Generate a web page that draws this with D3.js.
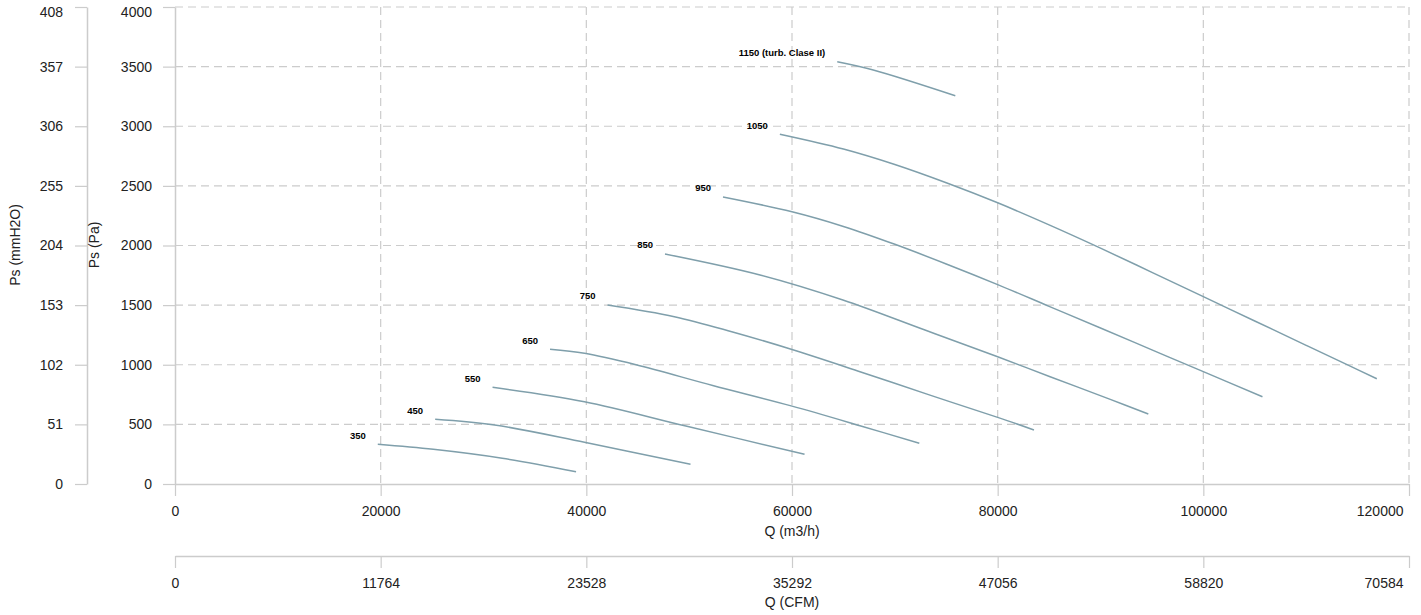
<!DOCTYPE html>
<html>
<head>
<meta charset="utf-8">
<script src="https://cdn.jsdelivr.net/npm/d3@7/dist/d3.min.js"></script>
<style>
  html, body { margin: 0; padding: 0; background: #fff; }
  svg { display: block; font-family: "Liberation Sans", Arial, sans-serif; }
</style>
</head>
<body>
<svg id="chart" width="1421" height="615"></svg>
<script>
// ---- data ----
const qTicks = [0, 20000, 40000, 60000, 80000, 100000, 120000];
const pTicks = [0, 500, 1000, 1500, 2000, 2500, 3000, 3500, 4000];
const mmTicks = [0, 51, 102, 153, 204, 255, 306, 357, 408];
const cfmTicks = [0, 11764, 23528, 35292, 47056, 58820, 70584];

const speedLabels = ["350", "450", "550", "650", "750", "850", "950", "1050", "1150 (turb. Clase II)"];

const q350 = [19720, 25120, 31820, 39000];
const p350 = [333, 291, 216, 103];
const q450 = [25300, 31080, 39820, 50130];
const p450 = [543, 495, 350, 165];
const q550 = [30880, 39820, 49680, 61220];
const p550 = [811, 690, 486, 249];
const q650 = [36470, 39820, 44830, 52290, 59920, 66610, 72380];
const p650 = [1130, 1096, 1000, 826, 655, 489, 341];
const q750 = [42060, 48560, 54140, 59920, 66610, 73420, 80000, 83530];
const p750 = [1501, 1403, 1277, 1130, 942, 745, 559, 453];
const q850 = [47650, 56890, 64950, 72930, 80000, 85100, 90950, 94650];
const p850 = [1929, 1753, 1543, 1291, 1067, 900, 710, 587];
const q950 = [53290, 60000, 65000, 70000, 75000, 80000, 85000, 90000, 95000, 100000, 105750];
const p950 = [2407, 2283, 2160, 2010, 1845, 1672, 1490, 1308, 1125, 942, 732];
const q1050 = [58820, 65000, 70000, 75000, 80000, 85000, 90000, 95000, 100000, 105000, 110000, 114130, 116870];
const p1050 = [2933, 2809, 2679, 2526, 2358, 2173, 1978, 1775, 1571, 1367, 1163, 995, 883];
const q1150 = [64400, 67900, 75880];
const p1150 = [3541, 3472, 3256];

const seriesQ = [q350, q450, q550, q650, q750, q850, q950, q1050, q1150];
const seriesP = [p350, p450, p550, p650, p750, p850, p950, p1050, p1150];

// ---- layout ----
const svg = d3.select("#chart");
const plotLeft = 175, plotRight = 1409, plotTop = 7, plotBottom = 484;
const gridColor = "#cccccc";
const textColor = "#222";
const lineColor = "#7f9fab";

const x = d3.scaleLinear().domain([0, 120000]).range([plotLeft, plotRight]);
const xCfm = d3.scaleLinear().domain([0, 70584]).range([plotLeft, plotRight]);
const y = d3.scaleLinear().domain([0, 4000]).range([plotBottom, plotTop]);
const yMm = d3.scaleLinear().domain([0, 408]).range([plotBottom, plotTop]);

// grid
const grid = svg.append("g");
grid.selectAll("line.h").data(pTicks.filter(d => d > 0)).join("line")
  .attr("class", "h")
  .attr("x1", plotLeft).attr("x2", plotRight)
  .attr("y1", d => y(d)).attr("y2", d => y(d))
  .attr("stroke", gridColor).attr("stroke-width", 1.2).attr("stroke-dasharray", "8,5");
grid.selectAll("line.v").data(qTicks.filter(d => d > 0)).join("line")
  .attr("class", "v")
  .attr("x1", d => x(d)).attr("x2", d => x(d))
  .attr("y1", plotTop).attr("y2", plotBottom)
  .attr("stroke", gridColor).attr("stroke-width", 1.2).attr("stroke-dasharray", "8,5");

function styleAxis(g) {
  g.selectAll(".domain").attr("stroke", gridColor).attr("stroke-width", 1.5);
  g.selectAll(".tick line").attr("stroke", gridColor).attr("stroke-width", 1.2);
  g.selectAll(".tick text").attr("fill", textColor)
    .style("font-size", "14px").style("font-family", "'Liberation Sans', Arial, sans-serif");
}

// left axes
const yAxis = svg.append("g").attr("transform", `translate(${plotLeft},0)`)
  .call(d3.axisLeft(y).tickValues(pTicks).tickSize(12).tickSizeOuter(0).tickPadding(11).tickFormat(d3.format("d")));
styleAxis(yAxis);
yAxis.selectAll(".tick text").filter(d => d === 4000).attr("y", 5);

const yMmAxis = svg.append("g").attr("transform", `translate(87,0)`)
  .call(d3.axisLeft(yMm).tickValues(mmTicks).tickSize(12).tickSizeOuter(0).tickPadding(12).tickFormat(d3.format("d")));
styleAxis(yMmAxis);
yMmAxis.selectAll(".tick text").filter(d => d === 408).attr("y", 5);

// bottom axes
const xAxis = svg.append("g").attr("transform", `translate(0,${plotBottom})`)
  .call(d3.axisBottom(x).tickValues(qTicks).tickSize(12).tickSizeOuter(0).tickPadding(10).tickFormat(d3.format("d")));
styleAxis(xAxis);
xAxis.selectAll(".tick text").filter(d => d === 120000).attr("text-anchor", "end").attr("dx", "-6");

const xCfmAxis = svg.append("g").attr("transform", `translate(0,556)`)
  .call(d3.axisBottom(xCfm).tickValues(cfmTicks).tickSize(12).tickSizeOuter(0).tickPadding(10).tickFormat(d3.format("d")));
styleAxis(xCfmAxis);
xCfmAxis.selectAll(".tick text").filter(d => d === 70584).attr("text-anchor", "end").attr("dx", "-6");

// axis titles
svg.append("text").attr("x", (plotLeft + plotRight) / 2).attr("y", 531).attr("dy", "0.35em")
  .attr("text-anchor", "middle").attr("fill", textColor).style("font-size", "14px").text("Q (m3/h)");
svg.append("text").attr("x", (plotLeft + plotRight) / 2).attr("y", 602).attr("dy", "0.35em")
  .attr("text-anchor", "middle").attr("fill", textColor).style("font-size", "14px").text("Q (CFM)");
svg.append("text").attr("transform", "translate(15,245) rotate(-90)").attr("dy", "0.35em")
  .attr("text-anchor", "middle").attr("fill", textColor).style("font-size", "14px").text("Ps (mmH2O)");
svg.append("text").attr("transform", "translate(94,245) rotate(-90)").attr("dy", "0.35em")
  .attr("text-anchor", "middle").attr("fill", textColor).style("font-size", "14px").text("Ps (Pa)");

// curves
const line = d3.line().x(d => x(d[0])).y(d => y(d[1])).curve(d3.curveCatmullRom.alpha(0.5));
const curves = svg.append("g");
seriesQ.forEach((qs, i) => {
  const pts = qs.map((q, j) => [q, seriesP[i][j]]);
  curves.append("path").datum(pts).attr("d", line)
    .attr("fill", "none").attr("stroke", lineColor).attr("stroke-width", 1.5);
  curves.append("text")
    .attr("x", x(pts[0][0]) - 12).attr("y", y(pts[0][1]) - 9).attr("dy", "0.35em")
    .attr("text-anchor", "end").attr("fill", "#000")
    .style("font-size", "9.5px").style("font-weight", "bold")
    .text(speedLabels[i]);
});
</script>
</body>
</html>
